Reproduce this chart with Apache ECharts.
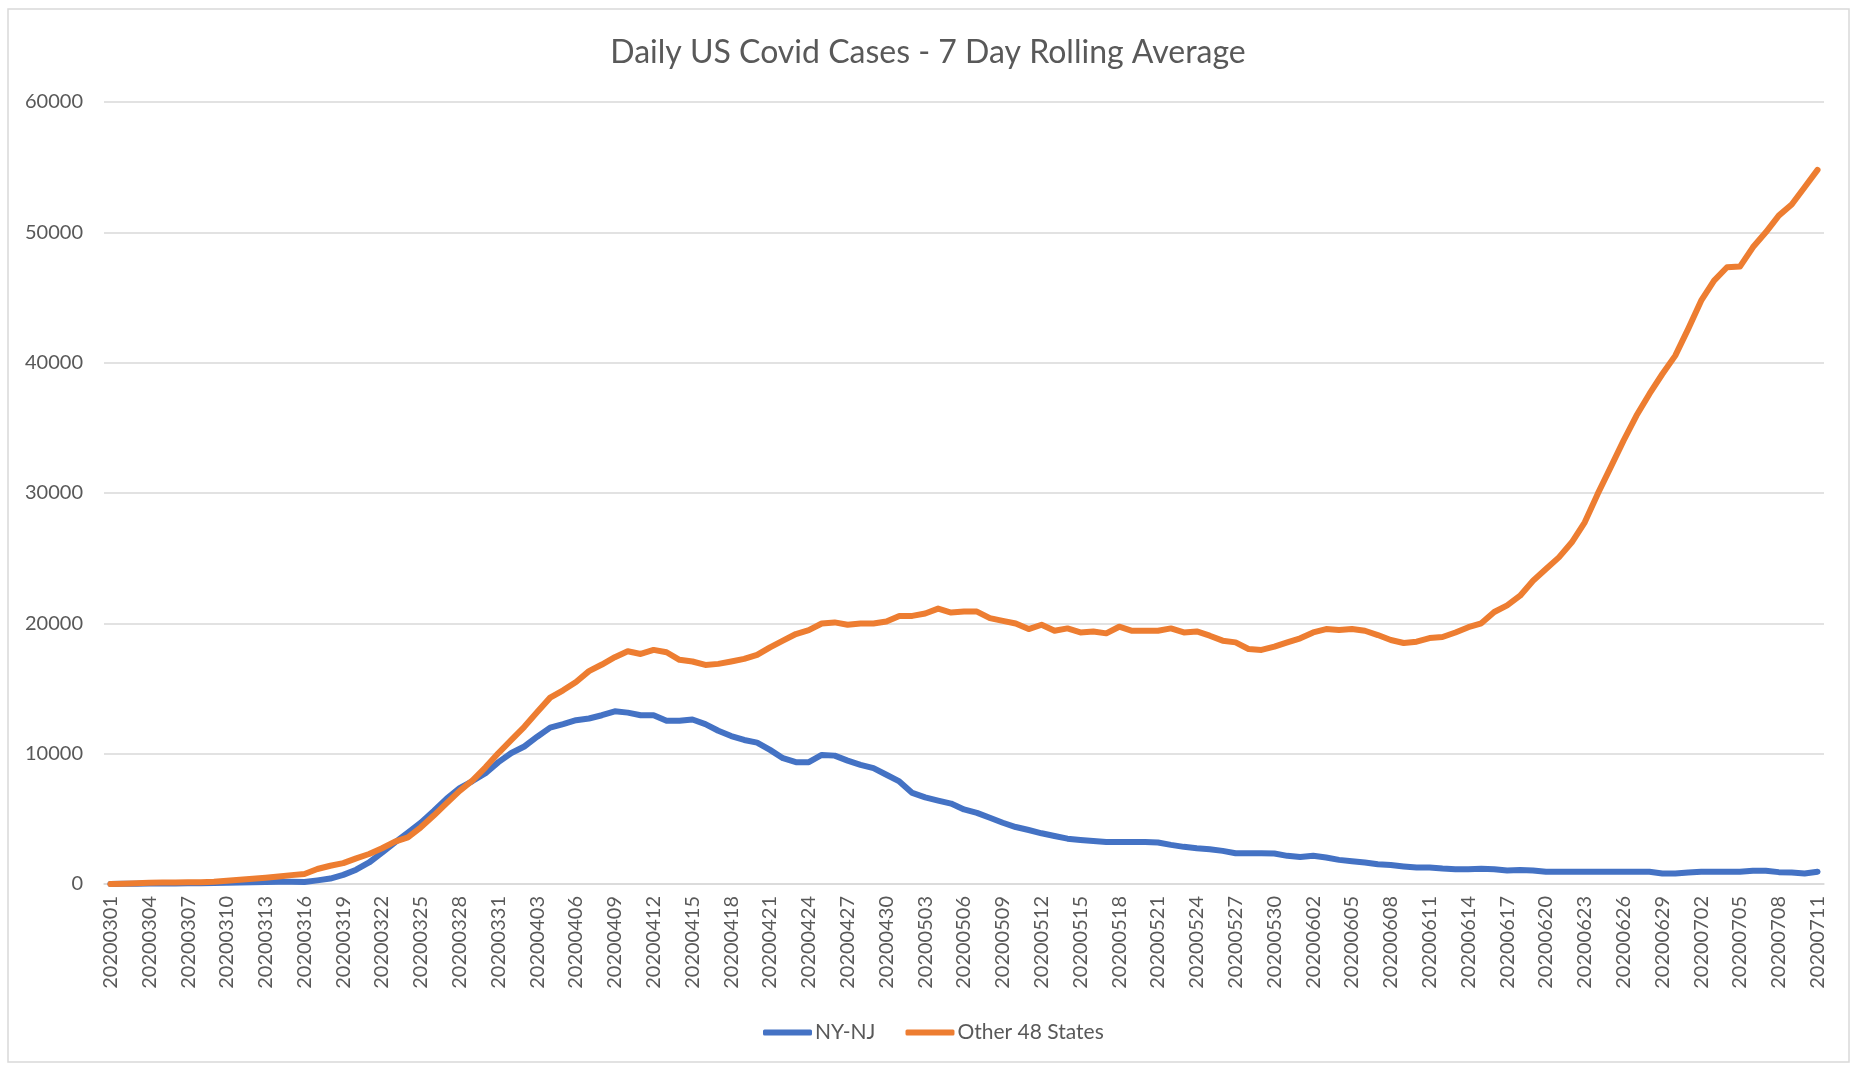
<!DOCTYPE html>
<html>
<head>
	<meta charset="utf-8">
	<title>Daily US Covid Cases</title>
	<style>
		html, body { margin: 0; padding: 0; background: #fff; }
		#chart1 { width: 1856px; height: 1065px; }
	</style>
</head>

<body>
	<div id="chart1"></div>

	<script src="https://cdn.jsdelivr.net/npm/echarts/dist/echarts.min.js"></script>
	<script>

	// dates on the x axis (one per day)
	var days = [
		'20200301','20200302','20200303','20200304','20200305','20200306','20200307','20200308','20200309','20200310',
		'20200311','20200312','20200313','20200314','20200315','20200316','20200317','20200318','20200319','20200320',
		'20200321','20200322','20200323','20200324','20200325','20200326','20200327','20200328','20200329','20200330',
		'20200331','20200401','20200402','20200403','20200404','20200405','20200406','20200407','20200408','20200409',
		'20200410','20200411','20200412','20200413','20200414','20200415','20200416','20200417','20200418','20200419',
		'20200420','20200421','20200422','20200423','20200424','20200425','20200426','20200427','20200428','20200429',
		'20200430','20200501','20200502','20200503','20200504','20200505','20200506','20200507','20200508','20200509',
		'20200510','20200511','20200512','20200513','20200514','20200515','20200516','20200517','20200518','20200519',
		'20200520','20200521','20200522','20200523','20200524','20200525','20200526','20200527','20200528','20200529',
		'20200530','20200531','20200601','20200602','20200603','20200604','20200605','20200606','20200607','20200608',
		'20200609','20200610','20200611','20200612','20200613','20200614','20200615','20200616','20200617','20200618',
		'20200619','20200620','20200621','20200622','20200623','20200624','20200625','20200626','20200627','20200628',
		'20200629','20200630','20200701','20200702','20200703','20200704','20200705','20200706','20200707','20200708',
		'20200709','20200710','20200711'
	];

	// 7 day rolling average, NY + NJ
	var nyNj = [
		0, 10, 20, 30, 40, 40, 50, 50, 70, 90,
		110, 130, 150, 170, 170, 150, 280, 420, 700, 1100,
		1650, 2400, 3200, 3950, 4700, 5600, 6550, 7350, 7900, 8500,
		9350, 10050, 10550, 11300, 12000, 12270, 12570, 12700, 12950, 13250,
		13150, 12950, 12950, 12520, 12520, 12620, 12270, 11760, 11350, 11050,
		10850, 10290, 9650, 9350, 9350, 9900, 9850, 9470, 9140, 8890,
		8380, 7870, 6990, 6650, 6400, 6170, 5720, 5460, 5080, 4700,
		4370, 4140, 3890, 3680, 3480, 3380, 3300, 3230, 3230, 3230,
		3230, 3180, 3000, 2850, 2740, 2670, 2540, 2360, 2360, 2360,
		2340, 2160, 2080, 2160, 2030, 1850, 1750, 1650, 1520, 1450,
		1350, 1270, 1270, 1190, 1140, 1140, 1170, 1140, 1040, 1070,
		1040, 940, 940, 940, 940, 940, 940, 940, 940, 940,
		810, 810, 890, 940, 940, 940, 940, 1020, 1020, 910,
		890, 810, 940
	];

	// 7 day rolling average, the other 48 states
	var other48 = [
		0, 20, 50, 100, 110, 120, 130, 140, 180, 250,
		330, 400, 480, 580, 680, 770, 1150, 1400, 1600, 1970,
		2300, 2740, 3250, 3580, 4350, 5250, 6200, 7150, 7950, 8950,
		10050, 11050, 12060, 13200, 14300, 14860, 15500, 16330, 16840, 17400,
		17860, 17650, 17960, 17780, 17200, 17070, 16810, 16890, 17070, 17270,
		17580, 18160, 18670, 19180, 19480, 19990, 20070, 19890, 19990, 19990,
		20140, 20570, 20570, 20750, 21130, 20830, 20900, 20900, 20400, 20190,
		19990, 19560, 19890, 19430, 19610, 19300, 19380, 19230, 19740, 19430,
		19430, 19430, 19610, 19300, 19380, 19050, 18670, 18540, 18030, 17960,
		18210, 18540, 18850, 19300, 19560, 19480, 19560, 19430, 19100, 18720,
		18490, 18590, 18870, 18950, 19300, 19700, 20000, 20870, 21380, 22120,
		23270, 24170, 25060, 26220, 27750, 29930, 31970, 34020, 35940, 37600,
		39130, 40540, 42590, 44760, 46300, 47320, 47370, 48850, 50000, 51280,
		52130, 53460, 54790
	];

	var seriesNames = ['NY-NJ', 'Other 48 States'];

	var textColor = '#595959';
	var font = 'Lato, "Open Sans", sans-serif';

	var myChart = echarts.init(document.getElementById('chart1'));

	var option = {
		backgroundColor: '#fff',
		animation: false,
		textStyle: { fontFamily: font },
		title: {
			text: 'Daily US Covid Cases - 7 Day Rolling Average',
			left: 'center',
			top: 32,
			textStyle: { color: textColor, fontSize: 32, fontWeight: 'normal', fontFamily: font }
		},
		legend: {
			data: seriesNames,
			top: 1017,
			left: 758,
			icon: 'roundRect',
			itemWidth: 49,
			itemHeight: 6,
			itemGap: 30,
			textStyle: { color: textColor, fontSize: 21, fontFamily: font, padding: [0, 0, 0, -2] }
		},
		grid: { left: 104, right: 32, top: 102, bottom: 181 },
		xAxis: {
			type: 'category',
			data: days,
			boundaryGap: true,
			axisLine: { lineStyle: { color: '#d9d9d9', width: 1.5 } },
			axisTick: { show: false },
			axisLabel: {
				interval: 2,
				rotate: 90,
				margin: 12,
				color: textColor,
				fontSize: 20,
				fontFamily: font
			}
		},
		yAxis: {
			type: 'value',
			min: 0,
			max: 60000,
			interval: 10000,
			axisLine: { show: false },
			axisTick: { show: false },
			splitLine: { lineStyle: { color: '#d9d9d9', width: 1.5 } },
			axisLabel: {
				margin: 21,
				color: textColor,
				fontSize: 20,
				fontFamily: font,
				formatter: function (v) { return String(v); }
			}
		},
		graphic: [{
			type: 'rect',
			shape: { x: 8, y: 9, width: 1841, height: 1053 },
			style: { fill: null, stroke: '#d9d9d9', lineWidth: 1.5 },
			silent: true,
			z: -1
		}],
		series: [
			{
				name: seriesNames[0],
				type: 'line',
				data: nyNj,
				showSymbol: false,
				color: '#4472C4',
				lineStyle: { width: 6, color: '#4472C4', cap: 'round', join: 'round' }
			},
			{
				name: seriesNames[1],
				type: 'line',
				data: other48,
				showSymbol: false,
				color: '#ED7D31',
				lineStyle: { width: 6, color: '#ED7D31', cap: 'round', join: 'round' }
			}
		]
	};

	myChart.setOption(option);

	</script>
</body>

</html>
